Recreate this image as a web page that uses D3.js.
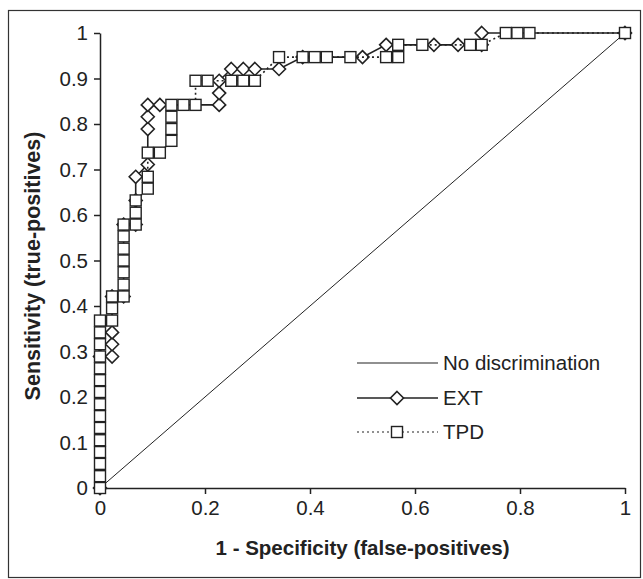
<!DOCTYPE html>
<html>
<head>
<meta charset="utf-8">
<script src="https://cdn.jsdelivr.net/npm/d3@7"></script>
<style>
  html, body { margin: 0; padding: 0; background: #fff; }
  svg { display: block; }
  text { font-family: "Liberation Sans", Arial, sans-serif; fill: #222; }
</style>
</head>
<body>
<svg id="chart" width="643" height="579"></svg>
<script>
// ---- data ----
const xTicks = [0, 0.2, 0.4, 0.6, 0.8, 1];
const yTicks = [0, 0.1, 0.2, 0.3, 0.4, 0.5, 0.6, 0.7, 0.8, 0.9, 1];
const xTickLabels = ["0", "0.2", "0.4", "0.6", "0.8", "1"];
const yTickLabels = ["0", "0.1", "0.2", "0.3", "0.4", "0.5", "0.6", "0.7", "0.8", "0.9", "1"];
const xTitle = "1 - Specificity (false-positives)";
const yTitle = "Sensitivity (true-positives)";
const seriesNames = ["No discrimination", "EXT", "TPD"];

const diagFpr = [0, 1];
const diagTpr = [0, 1];

const extFpr = [0, 0, 0.023, 0.023, 0.023, 0.023, 0.045, 0.045, 0.068, 0.068, 0.068, 0.091, 0.091, 0.091, 0.091, 0.114, 0.227, 0.227, 0.227, 0.25, 0.273, 0.295, 0.341, 0.386, 0.5, 0.545, 0.636, 0.682, 0.727, 0.727, 1];
const extTpr = [0, 0.289, 0.289, 0.316, 0.342, 0.421, 0.421, 0.579, 0.579, 0.632, 0.684, 0.711, 0.789, 0.816, 0.842, 0.842, 0.842, 0.868, 0.895, 0.921, 0.921, 0.921, 0.921, 0.947, 0.947, 0.974, 0.974, 0.974, 0.974, 1, 1];

const tpdFpr = [0, 0, 0, 0, 0, 0, 0, 0, 0, 0, 0, 0, 0, 0, 0,
  0.023, 0.023, 0.023, 0.045, 0.045, 0.045, 0.045, 0.045, 0.045, 0.045,
  0.068, 0.068, 0.068, 0.091, 0.091, 0.091, 0.114, 0.136, 0.136, 0.136, 0.136,
  0.159, 0.182, 0.182, 0.205, 0.25, 0.273, 0.295, 0.341, 0.386, 0.409, 0.432,
  0.477, 0.545, 0.568, 0.568, 0.614, 0.705, 0.727, 0.773, 0.795, 0.818, 1];
const tpdTpr = [0, 0.026, 0.053, 0.079, 0.105, 0.132, 0.158, 0.184, 0.211, 0.237, 0.263, 0.289, 0.316, 0.342, 0.368,
  0.368, 0.395, 0.421, 0.421, 0.447, 0.474, 0.5, 0.526, 0.553, 0.579,
  0.579, 0.605, 0.632, 0.658, 0.684, 0.737, 0.737, 0.763, 0.789, 0.816, 0.842,
  0.842, 0.842, 0.895, 0.895, 0.895, 0.895, 0.895, 0.947, 0.947, 0.947, 0.947,
  0.947, 0.947, 0.947, 0.974, 0.974, 0.974, 0.974, 1, 1, 1, 1];

// ---- layout ----
const svg = d3.select("#chart");
const ink = "#222";
const x = d3.scaleLinear().domain([0, 1]).range([100, 625]);
const y = d3.scaleLinear().domain([0, 1]).range([488, 33]);

// frame
svg.append("rect").attr("x", 8.5).attr("y", 10.5).attr("width", 632).attr("height", 567)
  .attr("fill", "none").attr("stroke", "#333").attr("stroke-width", 1.2);

// axes
const xAxis = d3.axisBottom(x).tickValues(xTicks).tickFormat((d, i) => xTickLabels[i]).tickSize(6).tickSizeOuter(0).tickPadding(6);
const yAxis = d3.axisLeft(y).tickValues(yTicks).tickFormat((d, i) => yTickLabels[i]).tickSize(6).tickSizeOuter(0).tickPadding(6);

const gx = svg.append("g").attr("transform", `translate(0,${y(0)})`).call(xAxis);
const gy = svg.append("g").attr("transform", `translate(${x(0)},0)`).call(yAxis);
[gx, gy].forEach(g => {
  g.select(".domain").attr("stroke", ink).attr("stroke-width", 1.5);
  g.selectAll(".tick line").attr("stroke", ink).attr("stroke-width", 1.5);
  g.selectAll(".tick text").attr("font-size", 20.5).attr("fill", ink)
    .attr("font-family", '"Liberation Sans", Arial, sans-serif');
});

// titles
svg.append("text").attr("x", (x(0) + x(1)) / 2).attr("y", 555)
  .attr("text-anchor", "middle").attr("font-size", 20.5).attr("font-weight", "bold").text(xTitle);
svg.append("text").attr("transform", `translate(40,266) rotate(-90)`)
  .attr("text-anchor", "middle").attr("font-size", 21.5).attr("font-weight", "bold").text(yTitle);

// series data
const diag = diagFpr.map((v, i) => [v, diagTpr[i]]);
const ext = extFpr.map((v, i) => [v, extTpr[i]]);
const tpd = tpdFpr.map((v, i) => [v, tpdTpr[i]]);
const line = d3.line().x(d => x(d[0])).y(d => y(d[1]));

svg.append("path").attr("d", line(diag)).attr("fill", "none").attr("stroke", ink).attr("stroke-width", 1);
svg.append("path").attr("d", line(ext)).attr("fill", "none").attr("stroke", ink).attr("stroke-width", 1.6);

const dia = 6.5;
const diamondPath = `M0,${-dia}L${dia},0L0,${dia}L${-dia},0Z`;
svg.append("g").selectAll("path").data(ext).join("path")
  .attr("transform", d => `translate(${x(d[0])},${y(d[1])})`)
  .attr("d", diamondPath).attr("fill", "#fff").attr("stroke", ink).attr("stroke-width", 1.6);

svg.append("path").attr("d", line(tpd)).attr("fill", "none").attr("stroke", ink)
  .attr("stroke-width", 1.6).attr("stroke-dasharray", "2,3");
const sq = 11;
svg.append("g").selectAll("rect").data(tpd).join("rect")
  .attr("x", d => x(d[0]) - sq / 2).attr("y", d => y(d[1]) - sq / 2)
  .attr("width", sq).attr("height", sq)
  .attr("fill", "#fff").attr("stroke", ink).attr("stroke-width", 1.4);

// legend
const legY = [363, 398, 432];
const lx0 = 357, lx1 = 438, lmid = 397;
const lg = svg.append("g");
lg.append("line").attr("x1", lx0).attr("x2", lx1).attr("y1", legY[0]).attr("y2", legY[0]).attr("stroke", ink).attr("stroke-width", 1.1);
lg.append("line").attr("x1", lx0).attr("x2", lx1).attr("y1", legY[1]).attr("y2", legY[1]).attr("stroke", ink).attr("stroke-width", 1.6);
lg.append("path").attr("transform", `translate(${lmid},${legY[1]})`).attr("d", diamondPath)
  .attr("fill", "#fff").attr("stroke", ink).attr("stroke-width", 1.6);
lg.append("line").attr("x1", lx0).attr("x2", lx1).attr("y1", legY[2]).attr("y2", legY[2]).attr("stroke", ink)
  .attr("stroke-width", 1.2).attr("stroke-dasharray", "2,3");
lg.append("rect").attr("x", lmid - sq / 2).attr("y", legY[2] - sq / 2).attr("width", sq).attr("height", sq)
  .attr("fill", "#fff").attr("stroke", ink).attr("stroke-width", 1.4);
seriesNames.forEach((n, i) => {
  lg.append("text").attr("x", 443).attr("y", legY[i]).attr("dy", "0.35em")
    .attr("font-size", 20.5).text(n);
});
</script>
</body>
</html>
